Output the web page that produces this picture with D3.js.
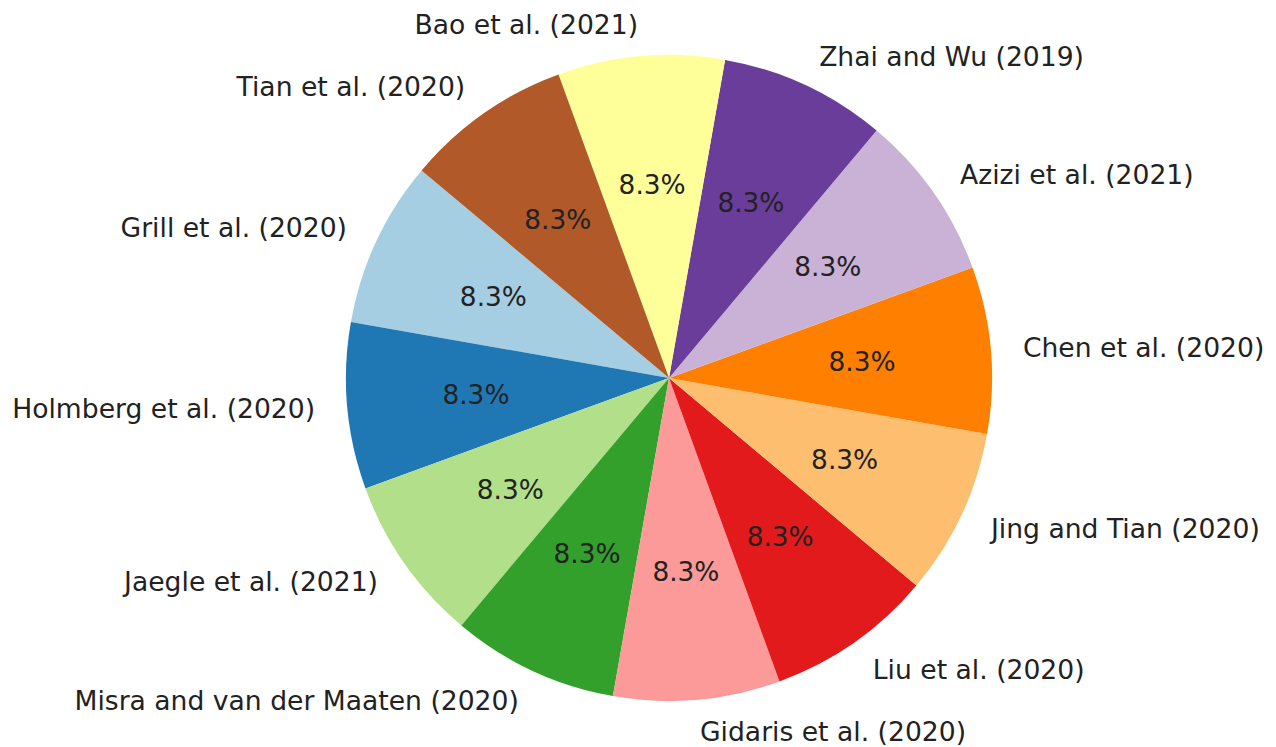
<!DOCTYPE html>
<html>
<head>
<meta charset="utf-8">
<script src="https://cdn.jsdelivr.net/npm/d3@7"></script>
<style>
  body { margin: 0; background: #fff; }
  text { font-family: "DejaVu Sans", sans-serif; }
</style>
</head>
<body>
<svg id="pie"></svg>
<script>
const labels = [
  "Grill et al. (2020)", "Holmberg et al. (2020)", "Jaegle et al. (2021)",
  "Misra and van der Maaten (2020)", "Gidaris et al. (2020)", "Liu et al. (2020)",
  "Jing and Tian (2020)", "Chen et al. (2020)", "Azizi et al. (2021)",
  "Zhai and Wu (2019)", "Bao et al. (2021)", "Tian et al. (2020)"
];
const values = [1, 1, 1, 1, 1, 1, 1, 1, 1, 1, 1, 1];
const colors = [
  "#a6cee3", "#1f78b4", "#b2df8a", "#33a02c", "#fb9a99", "#e31a1c",
  "#fdbf6f", "#ff7f00", "#cab2d6", "#6a3d9a", "#ffff99", "#b15928"
];

const width = 1276, height = 747;
const cx = 669, cy = 378, radius = 323;
const startDeg = 140; // matplotlib-style start angle, counterclockwise

const svg = d3.select("#pie")
    .attr("width", width)
    .attr("height", height)
    .attr("viewBox", [0, 0, width, height]);

const a0 = (90 - startDeg) * Math.PI / 180;
const pie = d3.pie().sort(null).value(d => d)
    .startAngle(a0).endAngle(a0 - 2 * Math.PI);
const arcs = pie(values);

const arc = d3.arc().innerRadius(0).outerRadius(radius);
const labelArc = d3.arc().innerRadius(radius * 1.1).outerRadius(radius * 1.1);
const pctArc = d3.arc().innerRadius(radius * 0.6).outerRadius(radius * 0.6);
const total = d3.sum(values);

const g = svg.append("g").attr("transform", `translate(${cx},${cy})`);

g.selectAll("path")
  .data(arcs)
  .join("path")
    .attr("d", arc)
    .attr("fill", (d, i) => colors[i]);

g.selectAll("text.lbl")
  .data(arcs)
  .join("text")
    .attr("class", "lbl")
    .attr("x", d => labelArc.centroid(d)[0])
    .attr("y", d => labelArc.centroid(d)[1])
    .attr("text-anchor", d => labelArc.centroid(d)[0] < 0 ? "end" : "start")
    .attr("dominant-baseline", "central")
    .attr("fill", "#222")
    .style("font-size", "26.6px")
    .text((d, i) => labels[i]);

g.selectAll("text.pct")
  .data(arcs)
  .join("text")
    .attr("class", "pct")
    .attr("x", d => pctArc.centroid(d)[0])
    .attr("y", d => pctArc.centroid(d)[1])
    .attr("text-anchor", "middle")
    .attr("dominant-baseline", "central")
    .attr("fill", "#222")
    .style("font-size", "26.4px")
    .text(d => (d.value / total * 100).toFixed(1) + "%");
</script>
</body>
</html>
